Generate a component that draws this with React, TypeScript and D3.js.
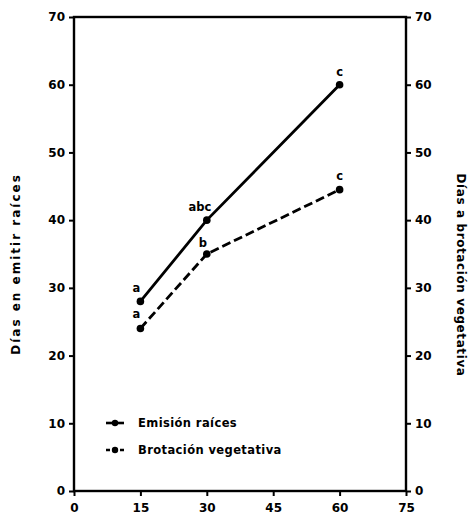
import React, { useRef, useEffect } from "react";
import * as d3 from "d3";

const days = [15, 30, 60];
const emision = [28, 40, 60];
const brotacion = [24, 35, 44.5];
const emisionLetters = ["a", "abc", "c"];
const brotacionLetters = ["a", "b", "c"];
const xTicks = [0, 15, 30, 45, 60, 75];
const yTicks = [0, 10, 20, 30, 40, 50, 60, 70];

const App = () => {
  const svgRef = useRef<SVGSVGElement>(null);

  useEffect(() => {
    const width = 469;
    const height = 519;
    const svg = d3.select(svgRef.current).attr("width", width).attr("height", height);
    svg.selectAll("*").remove();

    const font = "'DejaVu Sans', sans-serif";
    const x = d3.scaleLinear().domain([0, 75]).range([74, 406]);
    const y = d3.scaleLinear().domain([0, 70]).range([491, 17]);

    // frame
    svg.append("rect")
      .attr("x", x(0)).attr("y", y(70))
      .attr("width", x(75) - x(0)).attr("height", y(0) - y(70))
      .attr("fill", "none").attr("stroke", "#000").attr("stroke-width", 2.4);

    const styleAxis = (g) => {
      g.select(".domain").remove();
      g.selectAll("line").attr("stroke", "#000").attr("stroke-width", 2);
      g.selectAll("text").attr("font-family", font).attr("font-weight", "bold")
        .attr("font-size", 12).attr("fill", "#000");
    };

    svg.append("g").attr("transform", `translate(${x(0)},0)`)
      .call(d3.axisLeft(y).tickValues(yTicks).tickSize(5).tickPadding(4))
      .call(styleAxis);

    svg.append("g").attr("transform", `translate(${x(75)},0)`)
      .call(d3.axisRight(y).tickValues(yTicks).tickSize(5).tickPadding(4))
      .call(styleAxis);

    svg.append("g").attr("transform", `translate(0,${y(0)})`)
      .call(d3.axisBottom(x).tickValues(xTicks).tickSize(5).tickPadding(7))
      .call(styleAxis);

    const line = d3.line<number>().x((_, i) => x(days[i])).y(d => y(d));

    svg.append("path").datum(emision)
      .attr("fill", "none").attr("stroke", "#000").attr("stroke-width", 2.8)
      .attr("d", line);
    svg.append("path").datum(brotacion)
      .attr("fill", "none").attr("stroke", "#000").attr("stroke-width", 2.8)
      .attr("stroke-dasharray", "9,4")
      .attr("d", line);

    [emision, brotacion].forEach(series => {
      svg.append("g").selectAll("circle").data(series).enter().append("circle")
        .attr("cx", (_, i) => x(days[i])).attr("cy", d => y(d)).attr("r", 3.8)
        .attr("fill", "#000");
    });

    const letterStyle = (sel) => sel.attr("font-family", font).attr("font-weight", "bold")
      .attr("font-size", 11.5).attr("fill", "#000").attr("text-anchor", "middle");

    svg.append("g").selectAll("text").data(emision).enter().append("text")
      .attr("x", (_, i) => x(days[i]) + (i === 1 ? -7 : 0) - (i === 0 ? 4 : 0))
      .attr("y", d => y(d) - 9)
      .text((_, i) => emisionLetters[i])
      .call(letterStyle);

    svg.append("g").selectAll("text").data(brotacion).enter().append("text")
      .attr("x", (_, i) => x(days[i]) + (i === 0 ? -4 : i === 1 ? -4 : 0))
      .attr("y", (d, i) => y(d) - (i === 1 ? 7 : 10))
      .text((_, i) => brotacionLetters[i])
      .call(letterStyle);

    // legend
    const legend = [
      { label: "Emisión raíces", dash: null },
      { label: "Brotación vegetativa", dash: "4,3" },
    ];
    legend.forEach((d, i) => {
      const ly = 423 + i * 27;
      svg.append("line").attr("x1", 106).attr("x2", 124).attr("y1", ly).attr("y2", ly)
        .attr("stroke", "#000").attr("stroke-width", 2.6)
        .attr("stroke-dasharray", d.dash);
      svg.append("circle").attr("cx", 115).attr("cy", ly).attr("r", 3.2).attr("fill", "#000");
      svg.append("text").attr("x", 138).attr("y", ly + 4).text(d.label)
        .attr("font-family", font).attr("font-weight", "bold").attr("font-size", 11.5)
        .attr("letter-spacing", 0.4);
    });

    svg.append("text")
      .attr("transform", `translate(20,264) rotate(-90)`)
      .attr("text-anchor", "middle")
      .attr("font-family", font).attr("font-weight", "bold").attr("font-size", 12)
      .attr("letter-spacing", 2)
      .text("Días en emitir raíces");

    svg.append("text")
      .attr("transform", `translate(457,275) rotate(90)`)
      .attr("text-anchor", "middle")
      .attr("font-family", font).attr("font-weight", "bold").attr("font-size", 12)
      .attr("letter-spacing", 0.6)
      .text("Días a brotación vegetativa");
  }, []);

  return (
    <svg ref={svgRef} style={{ position: "absolute", left: 0, top: 0, background: "#fff" }}></svg>
  );
};

export default App;
